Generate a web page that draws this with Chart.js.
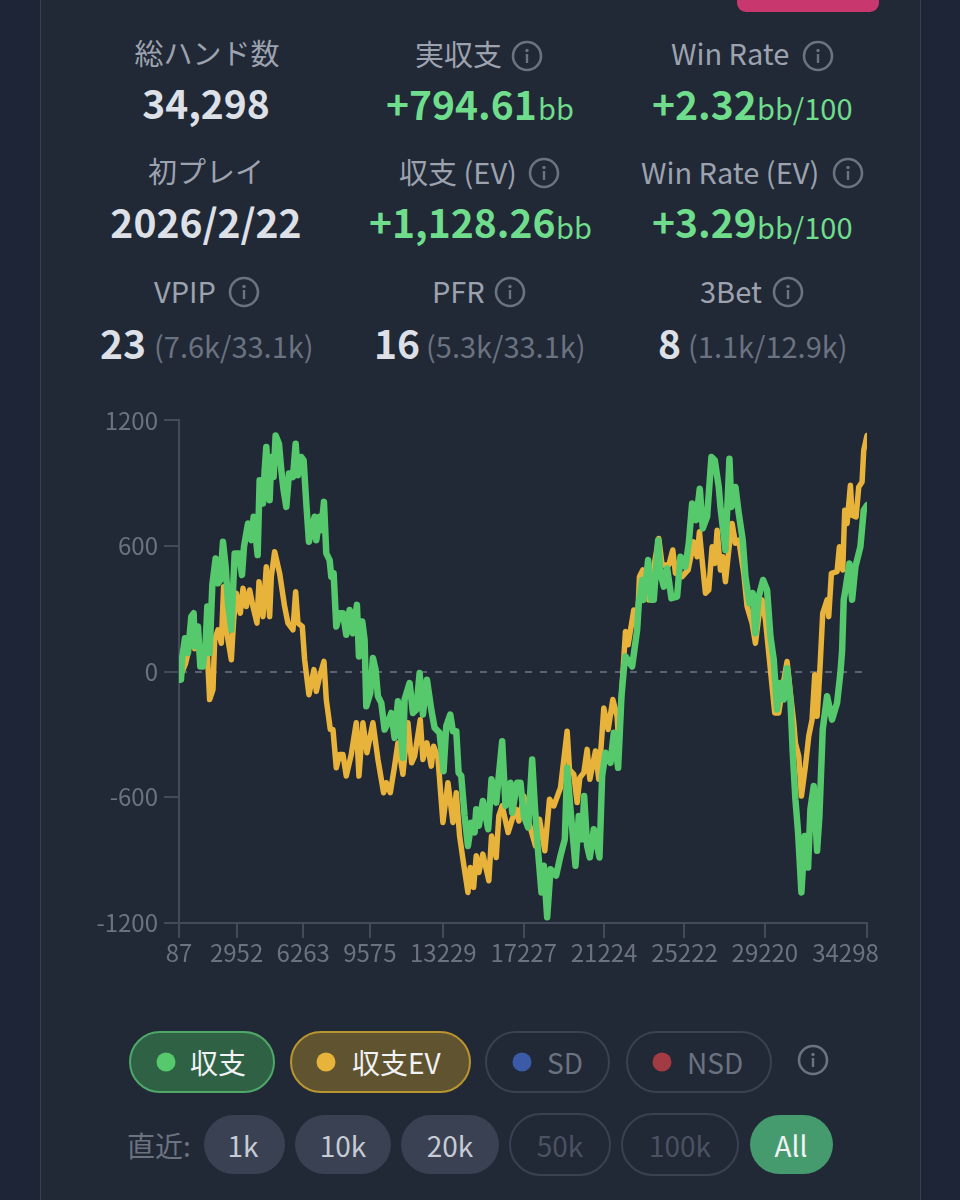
<!DOCTYPE html>
<html lang="ja">
<head>
<meta charset="utf-8">
<title>収支グラフ</title>
<script src="https://cdn.jsdelivr.net/npm/chart.js@4"></script>
<style>
  html, body { margin: 0; padding: 0; background: #1d2536; }
  body { width: 960px; height: 1200px; position: relative; overflow: hidden; font-family: "Noto Sans CJK JP", "Noto Sans", sans-serif; }
  #card { position: absolute; left: 40px; top: -20px; width: 879px; height: 1240px; background: #212836; border: 1px solid #3a4252; }
  #pink { position: absolute; left: 737px; top: -20px; width: 142px; height: 32px; background: #c9376f; border-radius: 9px; }
  #chartBox { position: absolute; left: 80px; top: 400px; width: 820px; height: 580px; }
  .t { position: absolute; white-space: nowrap; line-height: 1; transform: translateY(-50%); }
  .c { transform: translate(-50%, -50%); }
  .icon { position: absolute; width: 32px; height: 32px; transform: translate(-50%, -50%); }
  .pill { position: absolute; box-sizing: border-box; border-radius: 32px; }
  .dot { position: absolute; width: 19px; height: 19px; border-radius: 50%; transform: translate(-50%, -50%); }
</style>
</head>
<body>
<div id="card"></div>
<div id="pink"></div>
<div id="chartBox"><canvas id="chart"></canvas></div>
<script>
const realHands = [87,186,253,385,534,700,816,866,1031,1147,1280,1413,1495,1611,1744,1910,2026,2142,2274,2407,2523,2689,2854,3070,3219,3318,3517,3683,3799,3998,4097,4263,4346,4428,4594,4677,4793,4892,5058,5174,5290,5423,5555,5754,5887,6003,6169,6284,6417,6549,6665,6831,6914,7080,7163,7295,7411,7577,7660,7776,7908,8074,8240,8405,8571,8737,8935,9035,9200,9316,9400,9598,9731,9863,9979,10145,10311,10477,10642,10808,10974,11222,11305,11554,11720,11886,12052,12217,12416,12632,12798,13045,13244,13377,13576,13708,13874,13990,14122,14288,14454,14620,14785,14868,14997,15196,15461,15627,15859,16157,16323,16571,16654,16903,17068,17234,17449,17648,17781,17946,18112,18228,18394,18560,18841,19057,19272,19388,19554,19802,19968,20134,20233,20382,20515,20714,20995,21128,21294,21542,21708,21923,22089,22205,22288,22619,22868,22950,23116,23199,23415,23580,23696,23912,24028,24194,24359,24574,24856,25022,25270,25436,25602,25801,25983,26132,26348,26563,26729,26927,27010,27259,27458,27557,27756,27922,28120,28253,28452,28617,28750,28916,29131,29330,29496,29661,29827,29993,30159,30324,30490,30606,30738,30871,31037,31203,31368,31484,31650,31816,31932,32097,32313,32561,32810,32976,33060,33141,33224,33423,33556,33721,33970,34135,34298];
const realValues = [-38,-38,73,160,89,263,279,121,216,25,25,136,311,89,414,541,422,438,620,501,327,200,565,565,462,597,708,628,740,557,914,803,962,1073,819,1025,930,1128,1089,962,866,787,946,930,1089,938,1025,1009,803,620,676,740,628,740,676,811,565,533,454,470,216,279,279,176,295,184,319,73,240,152,-165,-102,65,10,-117,-149,-276,-244,-197,-316,-141,-411,-133,-54,-197,-181,-6,-205,-38,-181,-268,-292,-475,-260,-205,-284,-284,-482,-498,-689,-832,-721,-768,-657,-736,-617,-752,-514,-625,-332,-641,-530,-673,-530,-530,-689,-744,-419,-641,-863,-1054,-927,-1173,-943,-974,-879,-800,-459,-657,-927,-689,-800,-594,-832,-887,-752,-887,-498,-387,-435,-292,-459,-117,10,73,25,200,327,438,343,533,343,343,628,470,406,494,351,359,549,501,613,803,724,874,684,740,1025,1009,882,787,581,1017,787,882,755,628,454,327,375,184,359,438,390,168,57,-181,-54,-133,17,-133,-387,-609,-768,-1054,-784,-935,-657,-546,-855,-689,-276,-117,-229,-149,-6,100,343,390,517,343,501,597,771,795];

const evHands = [87,418,534,700,866,1031,1147,1280,1495,1611,1777,1860,2026,2191,2307,2440,2689,2805,2937,3136,3269,3434,3600,3766,3964,4064,4263,4428,4594,4677,4843,5091,5340,5505,5754,5887,6003,6218,6334,6549,6798,6914,7080,7295,7411,7610,7743,7908,8074,8240,8405,8654,8902,9035,9233,9432,9731,9979,10261,10394,10592,10808,10974,11222,11471,11653,11803,12084,12217,12416,12632,12748,12963,13211,13460,13708,13874,14040,14205,14454,14570,14736,14868,15000,15196,15494,15627,15859,15991,16157,16455,16654,16853,16985,17234,17483,17814,18013,18278,18510,18725,19057,19222,19388,19504,19719,19885,20018,20217,20382,20515,20796,20962,21211,21426,21658,21873,21956,22089,22288,22420,22702,22868,22984,23149,23448,23696,23945,24110,24442,24641,24773,25105,25403,25685,25850,25966,26099,26265,26430,26596,26729,26845,27010,27126,27259,27425,27590,27756,27922,28170,28336,28584,28750,28916,29081,29247,29446,29711,29910,30109,30324,30490,30656,30738,30904,31037,31236,31401,31567,31700,31816,31899,31981,32097,32313,32395,32528,32810,32926,33091,33191,33307,33473,33556,33754,33887,34053,34135,34298];
const evValues = [-38,41,90,200,110,180,40,30,89,-133,-86,152,200,136,406,200,57,248,375,279,398,311,390,311,232,430,263,501,263,454,573,470,311,232,200,382,232,216,57,-110,10,-94,-22,49,-133,-276,-276,-459,-395,-395,-498,-395,-244,-498,-244,-387,-244,-419,-578,-530,-578,-451,-340,-490,-244,-435,-403,-229,-419,-340,-451,-356,-411,-720,-530,-720,-578,-784,-895,-1054,-935,-1030,-879,-959,-871,-998,-784,-887,-689,-641,-768,-705,-657,-713,-594,-720,-832,-705,-855,-609,-641,-554,-419,-284,-467,-490,-625,-506,-482,-371,-514,-379,-514,-173,-276,-133,-213,-355,-117,192,129,295,200,454,486,343,501,636,509,509,581,470,454,486,620,549,668,533,375,390,597,517,676,486,549,430,581,708,613,628,470,311,232,136,263,343,248,57,-197,-197,-70,49,-102,-244,-340,-403,-594,-451,-308,-229,-14,-213,-86,57,279,343,263,470,478,597,486,771,708,890,747,739,882,906,1057,1128];

const xTicks = [87,2952,6263,9575,13229,17227,21224,25222,29220,34298];
const yTicks = [1200,600,0,-600,-1200];

const toPoints = (hands, values) => hands.map((h, i) => ({ x: h, y: values[i] }));

new Chart(document.getElementById("chart").getContext("2d"), {
  type: "line",
  data: {
    datasets: [
      { label: "収支", data: toPoints(realHands, realValues), borderColor: "#55c96c", borderWidth: 6.5, pointRadius: 0, tension: 0, borderJoinStyle: "round", borderCapStyle: "round" },
      { label: "収支EV", data: toPoints(evHands, evValues), borderColor: "#e8b33b", borderWidth: 5.5, pointRadius: 0, tension: 0, borderJoinStyle: "round", borderCapStyle: "round" },
    ],
  },
  options: {
    responsive: true,
    maintainAspectRatio: false,
    animation: false,
    layout: { padding: { top: 20, right: 33 } },
    plugins: { legend: { display: false }, tooltip: { enabled: false } },
    scales: {
      x: {
        type: "linear",
        min: 87,
        max: 34298,
        afterBuildTicks: (axis) => { axis.ticks = xTicks.map((v) => ({ value: v })); },
        afterFit: (axis) => { axis.height = 57; axis.paddingLeft = 0; axis.paddingRight = 0; },
        border: { color: "#434b5b", width: 2 },
        grid: { drawOnChartArea: false, color: "#434b5b", lineWidth: 2, tickLength: 15 },
        ticks: {
          autoSkip: false,
          maxRotation: 0,
          color: "#6b7280",
          padding: 0,
          font: { family: "Noto Sans CJK JP", size: 24 },
          // last label sits left of its tick in the original
          callback: (v) => (v === 34298 ? "34298\u00a0\u00a0\u00a0\u00a0\u00a0\u00a0\u00a0\u00a0" : String(v)),
        },
      },
      y: {
        min: -1200,
        max: 1200,
        afterBuildTicks: (axis) => { axis.ticks = yTicks.map((v) => ({ value: v })); },
        afterFit: (axis) => { axis.width = 99; },
        border: { color: "#434b5b", width: 2, dash: [7, 8] },
        grid: {
          color: (c) => (c.tick && c.tick.value === 0 ? "#5b6373" : "rgba(0,0,0,0)"),
          lineWidth: 2,
          tickColor: "#434b5b",
          tickLength: 15,
          tickBorderDash: [],
        },
        ticks: { color: "#6b7280", padding: 6, font: { family: "Noto Sans CJK JP", size: 24 }, callback: (v) => String(v) },
      },
    },
  },
});

// page furniture around the chart
function put(text, x, y, size, color, weight, centered) {
  const el = document.createElement("div");
  el.className = centered ? "t c" : "t";
  el.textContent = text;
  el.style.cssText = `left:${x}px;top:${y}px;font-size:${size}px;color:${color};font-weight:${weight || 400}`;
  document.body.appendChild(el);
}
function icon(x, y, color) {
  const s = `<svg class="icon" style="left:${x}px;top:${y}px" viewBox="0 0 32 32"><circle cx="16" cy="16" r="14" fill="none" stroke="${color}" stroke-width="2.6"/><circle cx="16" cy="10.5" r="1.7" fill="${color}"/><rect x="14.8" y="14" width="2.4" height="9" fill="${color}"/></svg>`;
  document.body.insertAdjacentHTML("beforeend", s);
}
function pill(x0, x1, y0, y1, bg, border) {
  const el = document.createElement("div");
  el.className = "pill";
  el.style.cssText = `left:${x0}px;top:${y0}px;width:${x1 - x0}px;height:${y1 - y0}px;background:${bg};border:${border ? "2.5px solid " + border : "none"}`;
  document.body.appendChild(el);
}
function dot(x, y, color) {
  const el = document.createElement("div");
  el.className = "dot";
  el.style.cssText = `left:${x}px;top:${y}px;background:${color}`;
  document.body.appendChild(el);
}

const LABEL = "#9ca3af", VALUE = "#dde0e6", GREEN = "#6fdd8b", MUTED = "#6b7280", ICON = "#6b7280";

put("総ハンド数", 207, 52, 29, LABEL, 400, true);
put("34,298", 206, 102, 39, VALUE, 700, true);
put("実収支", 415, 53, 29, LABEL);
icon(527, 56, ICON);
put("+794.61", 386, 103, 39, GREEN, 700);
put("bb", 538, 107, 29, GREEN);
put("Win Rate", 671, 52, 29, LABEL);
icon(818, 56, ICON);
put("+2.32", 652, 103, 39, GREEN, 700);
put("bb/100", 757, 107, 29, GREEN);

put("初プレイ", 206, 170, 29, LABEL, 400, true);
put("2026/2/22", 206, 221, 39, VALUE, 700, true);
put("収支 (EV)", 399, 171, 29, LABEL);
icon(544, 173, ICON);
put("+1,128.26", 369, 221, 39, GREEN, 700);
put("bb", 556, 226, 29, GREEN);
put("Win Rate (EV)", 641, 171, 29, LABEL);
icon(848, 173, ICON);
put("+3.29", 652, 221, 39, GREEN, 700);
put("bb/100", 757, 226, 29, GREEN);

put("VPIP", 154, 290, 29, LABEL);
icon(244, 292, ICON);
put("23", 100, 342, 39, VALUE, 700);
put("(7.6k/33.1k)", 154, 345, 29, MUTED);
put("PFR", 432, 290, 29, LABEL);
icon(510, 292, ICON);
put("16", 374, 342, 39, VALUE, 700);
put("(5.3k/33.1k)", 426, 345, 29, MUTED);
put("3Bet", 700, 290, 29, LABEL);
icon(788, 292, ICON);
put("8", 658, 342, 39, VALUE, 700);
put("(1.1k/12.9k)", 688, 345, 29, MUTED);

pill(129, 275, 1031, 1093, "#2f6245", "#4fa868");
dot(166, 1062, "#55c96c");
put("収支", 190, 1062, 28, "#f0f2f5");
pill(290, 471, 1031, 1093, "#5f542f", "#b9952f");
dot(326, 1062, "#e8b33b");
put("収支EV", 352, 1062, 28, "#f0f2f5");
pill(485, 610, 1031, 1093, "transparent", "#3a4252");
dot(522, 1062, "#3b5ba9");
put("SD", 547, 1062, 28, MUTED);
pill(626, 772, 1031, 1093, "transparent", "#3a4252");
dot(662, 1062, "#a23c42");
put("NSD", 687, 1062, 28, MUTED);
icon(813, 1060, ICON);

put("直近:", 127, 1145, 28, MUTED);
pill(204, 285, 1115, 1174, "#3a4152");
put("1k", 243, 1145, 28, "#c6cbd5", 400, true);
pill(295, 391, 1115, 1174, "#3a4152");
put("10k", 343, 1145, 28, "#c6cbd5", 400, true);
pill(401, 499, 1115, 1174, "#3a4152");
put("20k", 450, 1145, 28, "#c6cbd5", 400, true);
pill(509, 611, 1113, 1176, "transparent", "#3a4252");
put("50k", 560, 1145, 28, "#4b5262", 400, true);
pill(621, 739, 1113, 1176, "transparent", "#3a4252");
put("100k", 680, 1145, 28, "#4b5262", 400, true);
pill(750, 833, 1115, 1174, "#459a6e");
put("All", 791, 1145, 28, "#f0f2f5", 400, true);
</script>
</body>
</html>
